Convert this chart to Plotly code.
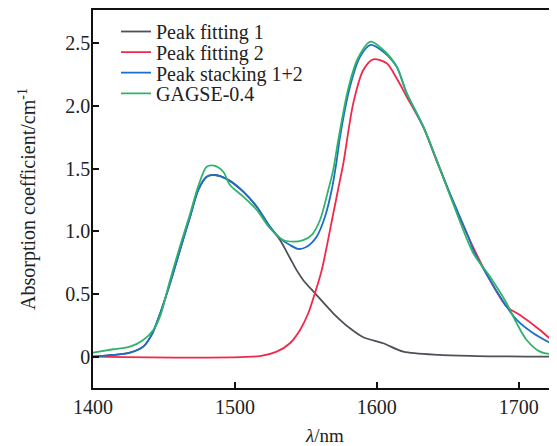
import plotly.graph_objects as go

# Peak fitting 1 (black/gray)
fit1_x = [1400, 1414.3, 1426.1, 1435.4, 1441.6, 1447.2, 1454.3, 1461.3, 1468.4, 1474.2, 1480.1, 1486.0,
          1495.3, 1505.9, 1515.4, 1524.7, 1531.8, 1538.8, 1543.5, 1548.2, 1556.4, 1569.3, 1581.1,
          1590.5, 1604.6, 1618.7, 1644.5, 1670.4, 1727.0]
fit1_y = [0, 0.014, 0.032, 0.08, 0.18, 0.34, 0.585, 0.85, 1.116, 1.33, 1.435, 1.449,
          1.41, 1.316, 1.196, 1.035, 0.93, 0.787, 0.69, 0.61, 0.506, 0.346, 0.226,
          0.155, 0.107, 0.04, 0.014, 0.005, 0.0]

# Peak fitting 2 (red)
fit2_x = [1400, 1517.7, 1529.5, 1538.8, 1545.9, 1551.7, 1556.4, 1561.2, 1569.3, 1574.1, 1576.4,
          1583.4, 1590.5, 1597.5, 1607.0, 1614.0, 1621.1, 1632.8, 1642.2, 1651.6, 1664.5, 1679.8,
          1691.5, 1700.9, 1715.0, 1727.0]
fit2_y = [0, 0.005, 0.04, 0.107, 0.213, 0.346, 0.506, 0.69, 1.14, 1.41, 1.54,
          2.02, 2.286, 2.371, 2.34, 2.22, 2.073, 1.83, 1.56, 1.295, 0.955, 0.61,
          0.399, 0.333, 0.213, 0.093]

# Peak stacking 1+2 (blue)
stack_x = [1400, 1414.3, 1426.1, 1435.4, 1441.6, 1447.2, 1454.3, 1461.3, 1468.4, 1474.2, 1480.1, 1486.0,
           1495.3, 1505.9, 1515.4, 1524.7, 1531.8, 1538.8, 1544.7, 1550.6, 1557.6, 1563.5, 1568.2,
           1571.7, 1574.1, 1581.1, 1588.2, 1595.7, 1604.6, 1614.0, 1621.1, 1632.8, 1642.2, 1651.6,
           1664.5, 1668.0, 1679.8, 1691.5, 1698.6, 1710.3, 1727.0]
stack_y = [0, 0.014, 0.032, 0.08, 0.18, 0.34, 0.585, 0.85, 1.116, 1.33, 1.435, 1.449,
           1.41, 1.316, 1.196, 1.037, 0.944, 0.89, 0.859, 0.877, 0.957, 1.116, 1.329,
           1.56, 1.754, 2.153, 2.392, 2.486, 2.432, 2.312, 2.10, 1.834, 1.568, 1.30,
           0.957, 0.851, 0.61, 0.399, 0.293, 0.187, 0.08]

# GAGSE-0.4 (green)
gagse_x = [1400, 1414.3, 1426.1, 1435.4, 1442.5, 1447.2, 1454.3, 1461.3, 1468.4, 1474.2, 1480.1, 1485.3,
           1491.8, 1496.5, 1505.9, 1515.4, 1524.7, 1534.1, 1541.2, 1548.2, 1554.1, 1560.0, 1565.8,
           1569.3, 1572.9, 1579.7, 1586.7, 1595.7, 1604.6, 1614.0, 1621.1, 1632.8, 1642.2, 1652.8,
           1668.0, 1679.8, 1691.5, 1698.6, 1705.6, 1715.0, 1727.0]
gagse_y = [0.032, 0.059, 0.08, 0.133, 0.213, 0.319, 0.61, 0.88, 1.138, 1.36, 1.515, 1.523,
           1.475, 1.369, 1.276, 1.17, 1.024, 0.93, 0.917, 0.93, 0.97, 1.09, 1.329,
           1.49, 1.73, 2.13, 2.38, 2.512, 2.446, 2.315, 2.10, 1.834, 1.568, 1.25,
           0.825, 0.638, 0.426, 0.266, 0.133, 0.04, 0.014]

x_ticks = [1400, 1500, 1600, 1700]
y_ticks = [0, 0.5, 1.0, 1.5, 2.0, 2.5]
y_tick_text = ["0", "0.5", "1.0", "1.5", "2.0", "2.5"]

series = [
    ("Peak fitting 1", fit1_x, fit1_y, "#4d5259", "legend"),
    ("Peak fitting 2", fit2_x, fit2_y, "#f0284b", "legend2"),
    ("Peak stacking 1+2", stack_x, stack_y, "#1d6fc6", "legend3"),
    ("GAGSE-0.4", gagse_x, gagse_y, "#2fb36b", "legend4"),
]

FONT = "Liberation Serif, Times New Roman, serif"
TXT = "#222"

fig = go.Figure()
for name, xs, ys, color, leg in series:
    fig.add_trace(go.Scatter(x=xs, y=ys, mode="lines", name=name,
                             line=dict(color=color, width=1.8, shape="spline", smoothing=0.8),
                             legend=leg))

# The page body has an 8px margin, so the figure is drawn 8px right and down.
W, H = 549, 438
ml, mt, mb, mr = 85, 2, 58, 0
plot_h = H - mt - mb
rows_px = [23.5, 44.1, 64.7, 85.3]      # legend row centres, from figure top
legend_x = 23 / (W - ml - mr)

legend_layouts = {}
for i, key in enumerate(["legend", "legend2", "legend3", "legend4"]):
    legend_layouts[key] = dict(
        x=legend_x, y=(H - mb - rows_px[i]) / plot_h, xanchor="left", yanchor="middle",
        bgcolor="rgba(0,0,0,0)", borderwidth=0,
        font=dict(family=FONT, size=20, color=TXT),
    )

fig.update_layout(
    width=W, height=H,
    margin=dict(l=ml, r=mr, t=mt, b=mb, autoexpand=False),
    paper_bgcolor="white", plot_bgcolor="white",
    showlegend=True,
    font=dict(family=FONT, size=20, color=TXT),
    **legend_layouts,
)

fig.update_xaxes(
    range=[1400, 1727], tickvals=x_ticks, ticks="inside", ticklen=6, tickwidth=1.5,
    tickcolor="#111", showline=True, linecolor="#111", linewidth=1.5, mirror=True,
    showgrid=False, zeroline=False, automargin=False,
    tickfont=dict(family=FONT, size=20, color=TXT),
    title=dict(text="<i>λ</i>/nm", font=dict(family=FONT, size=19, color=TXT), standoff=12),
)
fig.update_yaxes(
    range=[-0.25, 2.765], tickvals=y_ticks, ticktext=y_tick_text, ticks="inside", ticklen=6,
    tickwidth=1.5, tickcolor="#111", showline=True, linecolor="#111", linewidth=1.5,
    mirror=False, showgrid=False, zeroline=False, automargin=False,
    ticklabelstandoff=-3,
    tickfont=dict(family=FONT, size=20, color=TXT),
    title=dict(text="Absorption coefficient/cm<sup>-1</sup>",
               font=dict(family=FONT, size=20, color=TXT), standoff=24),
)

fig.write_html("out.html")
